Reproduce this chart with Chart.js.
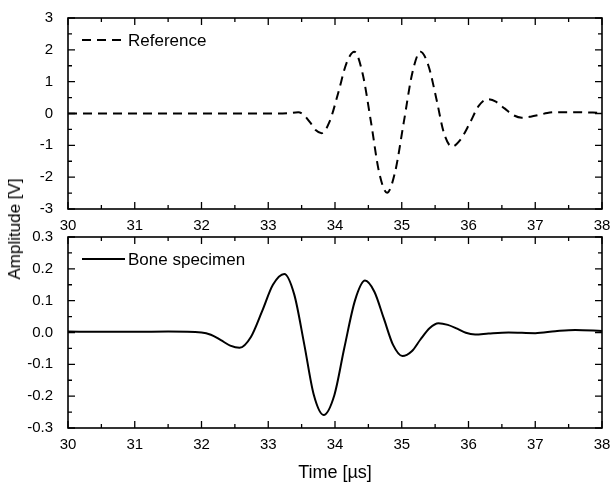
<!DOCTYPE html>
<html>
<head>
<meta charset="utf-8">
<title>Reference / Bone specimen</title>
<script src="https://cdn.jsdelivr.net/npm/chart.js@4.4.0/dist/chart.umd.min.js"></script>
<style>
  body { margin: 0; background: #fff; }
  #wrap { position: relative; width: 611px; height: 484px; overflow: hidden; }
  canvas { position: absolute; left: 0; }
  #cTop { top: 0; }
  #cBot { top: 220px; }
  #ytitle {
    position: absolute; left: 15px; top: 229px;
    transform: translate(-50%, -50%) rotate(-90deg);
    font: 17px "Liberation Sans", Arial, sans-serif; color: #000; white-space: nowrap;
  }
</style>
</head>
<body>
<div id="wrap">
  <canvas id="cTop" width="611" height="242"></canvas>
  <canvas id="cBot" width="611" height="264"></canvas>
  <div id="ytitle">Amplitude [V]</div>
</div>
<script>
// signal de reference (haut)
const refTime = [30.0, 31.0, 32.0, 33.0, 33.3, 33.45, 33.54, 33.63, 33.71, 33.8, 33.92, 34.05, 34.17, 34.29,
  34.41, 34.54, 34.66, 34.78, 34.9, 35.03, 35.16, 35.28, 35.4, 35.52, 35.63, 35.75, 35.88, 36.02, 36.15, 36.28,
  36.41, 36.54, 36.67, 36.8, 36.93, 37.05, 37.18, 37.3, 37.6, 38.0];
const refAmp = [0, 0, 0, 0, 0.01, 0.04, -0.06, -0.29, -0.52, -0.62, -0.25, 0.66, 1.57, 1.94,
  1.29, -0.28, -1.84, -2.49, -1.84, -0.28, 1.29, 1.94, 1.5, 0.45, -0.6, -1.04, -0.82, -0.3, 0.23, 0.45,
  0.37, 0.16, -0.05, -0.13, -0.1, -0.05, 0.015, 0.04, 0.04, 0.02];

// signal os (bas)
const boneTime = [30.0, 30.5, 31.0, 31.5, 32.0, 32.14, 32.29, 32.43, 32.57, 32.74, 32.91, 33.07, 33.24,
  33.39, 33.54, 33.68, 33.83, 33.99, 34.14, 34.3, 34.45, 34.59, 34.73, 34.87, 35.01, 35.15, 35.28, 35.42, 35.55,
  35.69, 35.83, 35.96, 36.1, 36.3, 36.6, 37.0, 37.3, 37.6, 38.0];
const boneAmp = [0.003, 0.002, 0.002, 0.003, 0.0, -0.007, -0.024, -0.041, -0.048, -0.014, 0.068, 0.15, 0.184,
  0.119, -0.038, -0.194, -0.259, -0.197, -0.048, 0.101, 0.163, 0.128, 0.045, -0.039, -0.074, -0.059, -0.022, 0.014, 0.029,
  0.024, 0.012, -0.001, -0.006, -0.003, 0.0, -0.002, 0.004, 0.008, 0.005];

const xMin = 30, xMax = 38;
const FONT = '"Liberation Sans", Arial, sans-serif';

// cadre + graduations vers l'interieur sur les 4 cotes
const boxTicks = {
  id: 'boxTicks',
  afterDatasetsDraw(chart, args, opts) {
    const { ctx, chartArea: a } = chart;
    const x = chart.scales.x, y = chart.scales.y;
    ctx.save();
    ctx.strokeStyle = '#000';
    ctx.lineWidth = 1.6;
    ctx.strokeRect(a.left, a.top, a.right - a.left, a.bottom - a.top);
    ctx.lineWidth = 1.3;
    ctx.beginPath();
    let n = 0;
    for (let v = x.min; v <= x.max + 1e-9; v += opts.xMinor, n++) {
      const px = x.getPixelForValue(v);
      const len = n % 2 === 0 ? 7 : 4;
      ctx.moveTo(px, a.bottom); ctx.lineTo(px, a.bottom - len);
      ctx.moveTo(px, a.top); ctx.lineTo(px, a.top + len);
    }
    n = 0;
    for (let v = y.min; v <= y.max + 1e-9; v += opts.yMinor, n++) {
      const py = y.getPixelForValue(v);
      const len = n % 2 === 0 ? 7 : 4;
      ctx.moveTo(a.left, py); ctx.lineTo(a.left + len, py);
      ctx.moveTo(a.right, py); ctx.lineTo(a.right - len, py);
    }
    ctx.stroke();
    ctx.restore();
  }
};

// legende dans le cadre, en haut a gauche
const innerLegend = {
  id: 'innerLegend',
  afterDraw(chart) {
    const { ctx, chartArea: a } = chart;
    const ds = chart.data.datasets[0];
    const yy = a.top + 22;
    ctx.save();
    ctx.strokeStyle = ds.borderColor;
    ctx.lineWidth = ds.borderWidth;
    ctx.setLineDash(ds.borderDash || []);
    ctx.beginPath();
    ctx.moveTo(a.left + 14, yy);
    ctx.lineTo(a.left + 57, yy);
    ctx.stroke();
    ctx.setLineDash([]);
    ctx.fillStyle = '#000';
    ctx.font = '17px ' + FONT;
    ctx.textBaseline = 'middle';
    ctx.fillText(ds.label, a.left + 60, yy + 1);
    ctx.restore();
  }
};

function fmt(dec) {
  return v => (Math.abs(v) < 1e-9 ? 0 : v).toFixed(dec);
}

function makeChart(id, label, times, amps, dash, yMin, yMax, yStep, yMinor, dec, padTop, xHeight, withTitle) {
  const ctx = document.getElementById(id).getContext('2d');
  return new Chart(ctx, {
    type: 'line',
    data: {
      datasets: [{
        label: label,
        data: times.map((t, i) => ({ x: t, y: amps[i] })),
        borderColor: '#000',
        borderWidth: 2,
        borderDash: dash,
        pointRadius: 0,
        fill: false,
        cubicInterpolationMode: 'monotone'
      }]
    },
    options: {
      responsive: false,
      animation: false,
      layout: { padding: { top: padTop, right: 9, left: 0, bottom: 0 } },
      plugins: {
        legend: { display: false },
        tooltip: { enabled: false },
        boxTicks: { xMinor: 0.5, yMinor: yMinor }
      },
      scales: {
        x: {
          type: 'linear', min: xMin, max: xMax,
          grid: { display: false },
          border: { display: false },
          ticks: { stepSize: 1, padding: 0, color: '#000', font: { family: FONT, size: 15 }, maxRotation: 0 },
          title: { display: withTitle, text: 'Time [µs]', color: '#000', font: { family: FONT, size: 18 }, padding: { top: 0, bottom: 0 } },
          afterFit: s => { s.height = xHeight; }
        },
        y: {
          min: yMin, max: yMax,
          grid: { display: false },
          border: { display: false },
          ticks: { stepSize: yStep, padding: 7, color: '#000', font: { family: FONT, size: 15 }, callback: fmt(dec) },
          afterFit: s => { s.width = 68; }
        }
      }
    },
    plugins: [boxTicks, innerLegend]
  });
}

makeChart('cTop', 'Reference', refTime, refAmp, [9, 6], -3, 3, 1, 0.5, 0, 18, 33, false);
makeChart('cBot', 'Bone specimen', boneTime, boneAmp, [], -0.3, 0.3, 0.1, 0.05, 1, 17, 56, true);
</script>
</body>
</html>
